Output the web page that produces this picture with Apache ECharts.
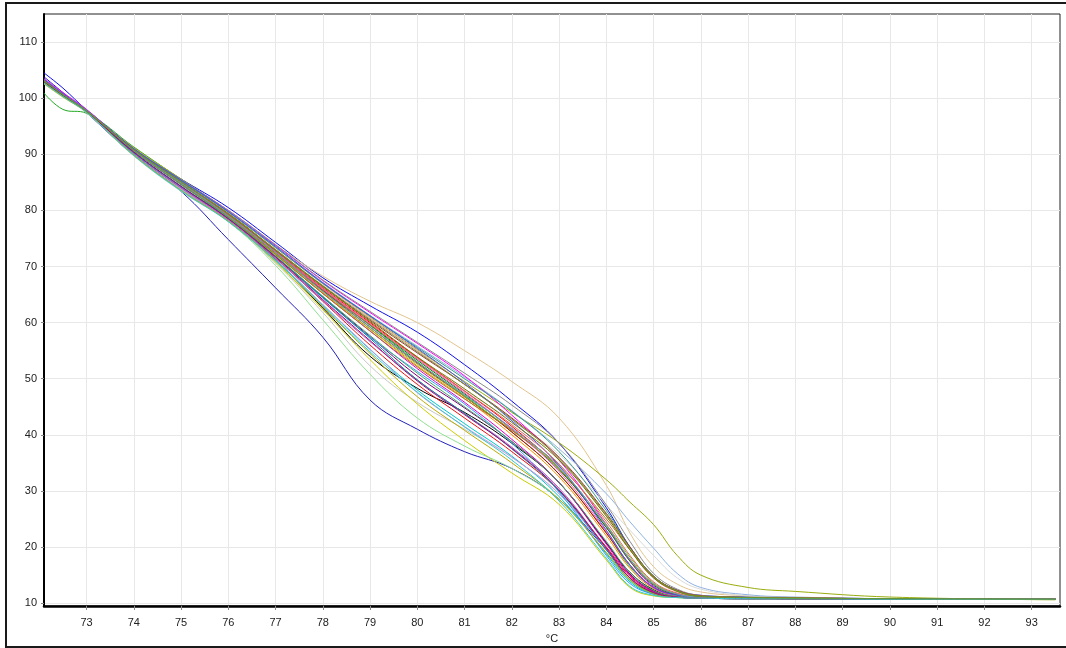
<!DOCTYPE html>
<html>
<head>
<meta charset="utf-8">
<script src="https://cdn.jsdelivr.net/npm/echarts@6/dist/echarts.min.js"></script>
<style>
  html, body { margin: 0; padding: 0; background: #fff; }
  #chart { width: 1066px; height: 648px; }
</style>
</head>
<body>
<div id="chart"></div>
<script>
// melt curves: fluorescence vs temperature (°C), one array per well
const temps = [72.1, 72.5, 73, 74, 75, 76, 77, 78, 79, 80, 81, 82, 83, 84, 84.5, 85, 85.5, 86, 87, 88, 90, 93.5];

const xTicks = [73, 74, 75, 76, 77, 78, 79, 80, 81, 82, 83, 84, 85, 86, 87, 88, 89, 90, 91, 92, 93];
const yTicks = [10, 20, 30, 40, 50, 60, 70, 80, 90, 100, 110];

const w01 = [104.5, 101.8, 97.9, 91.0, 85.6, 80.5, 74.3, 68.0, 63.0, 58.3, 52.5, 46.0, 38.5, 27.0, 20.0, 14.8, 12.3, 11.4, 11.1, 11.0, 10.8, 10.7];
const w02 = [103.8, 101.0, 97.4, 89.8, 83.4, 74.8, 66.2, 57.4, 46.2, 41.0, 37.0, 34.0, 28.5, 19.5, 14.5, 11.8, 11.1, 10.9, 10.8, 10.8, 10.7, 10.7];
const w03 = [100.9, 98.0, 97.3, 91.3, 85.5, 79.6, 72.8, 65.8, 59.5, 53.0, 47.0, 40.5, 33.0, 22.5, 16.5, 12.8, 11.4, 11.0, 10.9, 10.9, 10.8, 10.7];
const w04 = [102.8, 100.5, 97.7, 90.6, 84.8, 79.5, 73.8, 68.3, 63.8, 60.0, 55.0, 49.5, 43.0, 31.0, 22.5, 16.5, 13.4, 12.0, 11.3, 11.0, 10.8, 10.7];
const w05 = [103.0, 100.6, 97.6, 91.2, 85.6, 79.8, 73.4, 67.0, 61.0, 55.2, 49.5, 44.0, 38.6, 32.0, 28.0, 24.0, 18.5, 15.0, 12.8, 12.1, 11.1, 10.6];
const w06 = [103.2, 100.7, 97.8, 91.0, 85.3, 79.7, 73.5, 67.2, 61.3, 55.8, 50.3, 44.3, 37.5, 29.5, 24.5, 19.8, 15.3, 12.8, 11.5, 11.1, 10.8, 10.7];
const w07 = [103.0, 100.6, 97.7, 90.8, 85.0, 79.2, 72.6, 66.0, 59.6, 53.6, 48.0, 42.5, 36.5, 27.5, 23.0, 18.5, 14.5, 12.5, 11.3, 11.0, 10.8, 10.7];
const w08 = [102.5, 100.2, 97.4, 89.7, 83.4, 78.0, 70.6, 61.8, 52.3, 45.8, 41.0, 36.0, 29.5, 20.0, 15.0, 12.2, 11.2, 11.0, 10.9, 10.8, 10.7, 10.7];
const w09 = [102.6, 100.2, 97.5, 89.8, 83.6, 78.2, 70.8, 62.3, 53.4, 45.5, 39.0, 33.2, 27.6, 17.7, 12.8, 11.3, 11.0, 10.9, 10.8, 10.8, 10.7, 10.7];
const w10 = [102.7, 100.3, 97.5, 89.8, 83.5, 78.0, 70.2, 60.5, 50.8, 43.0, 38.0, 34.0, 28.5, 19.0, 14.0, 11.6, 11.0, 10.9, 10.8, 10.8, 10.7, 10.7];
const w11 = [103.3, 100.8, 97.8, 90.3, 84.2, 78.6, 71.2, 62.6, 54.0, 48.3, 44.0, 38.5, 31.5, 20.7, 15.5, 12.4, 11.2, 11.0, 10.9, 10.8, 10.7, 10.7];
const w12 = [103.2, 100.7, 97.8, 90.8, 85.0, 79.4, 72.8, 66.2, 60.0, 53.8, 47.8, 41.5, 34.0, 23.5, 17.8, 13.4, 11.6, 11.1, 11.0, 10.9, 10.8, 10.7];
const w13 = [102.9, 100.5, 97.6, 90.0, 84.0, 78.5, 71.5, 63.8, 56.0, 49.0, 43.0, 37.0, 30.0, 20.0, 14.8, 12.0, 11.2, 11.0, 10.9, 10.8, 10.7, 10.7];
const w14 = [103.5, 101.0, 98.0, 90.9, 85.4, 80.0, 73.8, 67.5, 61.8, 56.3, 50.5, 43.5, 35.5, 24.0, 17.5, 13.0, 11.5, 11.1, 11.0, 10.9, 10.8, 10.7];
const w15 = [103.0, 100.6, 97.7, 90.6, 84.8, 79.0, 72.2, 65.2, 58.5, 51.8, 45.8, 39.2, 31.5, 20.5, 15.0, 12.1, 11.2, 11.0, 10.9, 10.8, 10.7, 10.7];
const w16 = [102.8, 100.4, 97.6, 90.0, 83.8, 78.2, 71.2, 63.2, 55.2, 48.0, 42.0, 36.2, 29.0, 18.8, 13.8, 11.6, 11.1, 10.9, 10.8, 10.8, 10.7, 10.7];
const w17 = [103.1, 100.6, 97.7, 90.6, 84.6, 78.8, 71.8, 64.6, 57.5, 50.5, 44.8, 38.8, 31.5, 20.8, 15.2, 12.2, 11.2, 11.0, 10.9, 10.8, 10.7, 10.7];
const w18 = [102.9, 100.5, 97.6, 90.0, 83.8, 78.2, 71.1, 63.2, 55.3, 47.5, 41.5, 36.0, 29.5, 19.5, 14.5, 11.8, 11.1, 10.9, 10.8, 10.8, 10.7, 10.7];
const w19 = [103.2, 100.7, 97.8, 90.9, 85.2, 79.6, 73.3, 66.9, 60.8, 55.0, 49.0, 42.8, 35.8, 25.5, 19.5, 14.5, 12.0, 11.2, 11.0, 10.9, 10.8, 10.7];
const w20 = [103.4, 100.8, 97.9, 91.0, 85.5, 80.0, 73.9, 67.6, 62.0, 56.5, 51.0, 45.3, 38.5, 27.5, 21.0, 15.3, 12.5, 11.4, 11.1, 11.0, 10.8, 10.7];
const w21 = [103.1, 100.6, 97.8, 90.9, 85.3, 79.7, 73.4, 67.0, 61.2, 55.6, 50.0, 44.2, 37.0, 26.5, 20.0, 14.8, 12.2, 11.3, 11.0, 10.9, 10.8, 10.7];
const w22 = [103.0, 100.6, 97.7, 90.7, 84.8, 78.9, 72.2, 65.3, 58.8, 52.3, 46.5, 40.0, 32.5, 22.0, 16.2, 12.6, 11.3, 11.0, 10.9, 10.8, 10.7, 10.7];
const w23 = [102.9, 100.5, 97.6, 90.3, 84.2, 78.5, 71.7, 64.4, 57.4, 51.3, 45.5, 38.5, 29.8, 18.5, 13.5, 11.6, 11.1, 10.9, 10.8, 10.8, 10.7, 10.7];
const w24 = [103.0, 100.6, 97.7, 90.8, 85.0, 79.2, 72.7, 65.9, 59.6, 53.3, 47.3, 41.0, 33.8, 23.5, 17.5, 13.2, 11.5, 11.1, 10.9, 10.8, 10.8, 10.7];
const w25 = [103.2, 100.7, 97.8, 90.9, 85.1, 79.4, 73.0, 66.5, 60.4, 54.6, 49.0, 43.0, 36.0, 26.0, 20.0, 14.8, 12.3, 11.3, 11.0, 10.9, 10.8, 10.7];
const w26 = [103.1, 100.6, 97.7, 90.7, 84.9, 79.0, 72.4, 65.7, 59.2, 52.8, 46.8, 40.5, 33.0, 22.5, 16.8, 12.8, 11.4, 11.0, 10.9, 10.8, 10.7, 10.7];
const w27 = [102.8, 100.4, 97.6, 90.1, 84.0, 78.3, 71.4, 63.9, 56.6, 49.8, 43.8, 37.8, 30.5, 19.8, 14.5, 11.9, 11.1, 10.9, 10.8, 10.8, 10.7, 10.7];
const w28 = [103.0, 100.6, 97.7, 90.7, 84.8, 78.9, 72.3, 65.5, 58.9, 52.6, 46.8, 40.8, 34.0, 24.0, 18.2, 13.6, 11.7, 11.1, 11.0, 10.9, 10.8, 10.7];
const w29 = [102.9, 100.5, 97.6, 90.3, 84.3, 78.6, 71.8, 64.5, 57.2, 49.8, 43.8, 37.5, 30.0, 19.5, 14.2, 11.8, 11.1, 10.9, 10.8, 10.8, 10.7, 10.7];
const w30 = [103.1, 100.6, 97.7, 90.8, 85.0, 79.2, 72.7, 66.1, 59.8, 53.5, 47.5, 41.0, 33.5, 22.8, 16.8, 12.7, 11.3, 11.0, 10.9, 10.8, 10.7, 10.7];
const w31 = [103.0, 100.5, 97.6, 90.6, 84.7, 78.8, 72.1, 65.2, 58.5, 52.1, 46.4, 40.8, 34.5, 25.0, 19.5, 14.6, 12.2, 11.3, 11.0, 10.9, 10.8, 10.7];
const w32 = [103.3, 100.8, 97.9, 91.0, 85.4, 79.8, 73.6, 67.1, 61.2, 55.4, 49.3, 42.5, 34.5, 23.0, 16.8, 12.8, 11.4, 11.0, 10.9, 10.8, 10.8, 10.7];
const w33 = [102.7, 100.3, 97.5, 89.9, 83.6, 78.1, 71.0, 62.8, 54.5, 46.8, 40.8, 35.0, 28.5, 19.0, 14.2, 11.7, 11.1, 10.9, 10.8, 10.8, 10.7, 10.7];
const w34 = [102.9, 100.5, 97.6, 90.6, 84.6, 78.7, 71.9, 64.7, 57.7, 51.0, 45.0, 38.8, 31.5, 21.0, 15.5, 12.3, 11.2, 11.0, 10.9, 10.8, 10.7, 10.7];
const w35 = [103.1, 100.6, 97.8, 90.8, 85.0, 79.1, 72.6, 65.9, 59.7, 53.7, 47.8, 41.8, 34.8, 24.5, 18.5, 13.8, 11.8, 11.1, 11.0, 10.9, 10.8, 10.7];
const w36 = [103.0, 100.6, 97.7, 90.7, 84.9, 79.0, 72.5, 65.6, 59.2, 52.9, 47.1, 41.2, 34.2, 23.8, 17.8, 13.4, 11.6, 11.1, 10.9, 10.8, 10.8, 10.7];
const w37 = [102.9, 100.5, 97.6, 90.4, 84.3, 78.5, 71.7, 64.1, 56.8, 49.6, 43.6, 37.6, 30.2, 19.8, 14.5, 11.9, 11.1, 10.9, 10.8, 10.8, 10.7, 10.7];
const w38 = [103.0, 100.6, 97.7, 90.8, 85.1, 79.3, 72.9, 66.4, 60.2, 53.9, 48.2, 42.2, 35.5, 25.5, 19.5, 14.5, 12.1, 11.2, 11.0, 10.9, 10.8, 10.7];
const w39 = [102.7, 100.3, 97.5, 89.8, 83.5, 78.0, 71.0, 63.0, 54.8, 47.6, 41.4, 35.5, 28.2, 18.0, 13.0, 11.4, 11.0, 10.9, 10.8, 10.8, 10.7, 10.7];
const w40 = [103.1, 100.6, 97.7, 90.8, 85.1, 79.4, 73.0, 66.6, 60.6, 54.8, 49.0, 42.8, 35.8, 25.8, 19.8, 14.8, 12.2, 11.2, 11.0, 10.9, 10.8, 10.7];

const wells = [w01, w02, w03, w04, w05, w06, w07, w08, w09, w10, w11, w12, w13, w14, w15, w16, w17, w18, w19, w20,
               w21, w22, w23, w24, w25, w26, w27, w28, w29, w30, w31, w32, w33, w34, w35, w36, w37, w38, w39, w40];

const wellColors = ['#1010ee', '#2020bb', '#22aa22', '#e2c48e', '#9aac0e', '#8fb2e2', '#dadada', '#c6c6c6', '#cccc00', '#8ee08e',
                    '#000000', '#ff0000', '#e81010', '#ff00ff', '#e000c8', '#00c8c8', '#800080', '#cc99ee', '#ff9aa8', '#8a8a8a',
                    '#339988', '#ff8c00', '#3399ff', '#0a800a', '#a83232', '#c80000', '#a866cc', '#77bb22', '#008a99', '#ff4fb8',
                    '#aa7722', '#4455ee', '#bbaa00', '#44aa66', '#e06666', '#6699cc', '#aa0077', '#777700', '#33cccc', '#669933'];

const chart = echarts.init(document.getElementById('chart'), null, { renderer: 'canvas' });

const series = wells.map(function (vals, i) {
    return {
        type: 'line',
        data: temps.map(function (t, j) { return [t, vals[j]]; }),
        showSymbol: false,
        smooth: 0.4,
        lineStyle: { width: 1, color: wellColors[i] },
        emphasis: { disabled: true },
        z: 2
    };
});

const labelFont = { fontFamily: 'Liberation Sans, Arial, sans-serif', fontSize: 11, color: '#222' };

chart.setOption({
    animation: false,
    backgroundColor: '#fff',
    grid: {
        left: 44, right: 6, top: 14, bottom: 42,
        outerBoundsMode: 'none',
        show: true, borderColor: '#222', borderWidth: 1
    },
    xAxis: {
        type: 'value',
        min: 72.1,
        max: 93.6,
        name: '°C',
        nameLocation: 'middle',
        nameGap: 27,
        nameTextStyle: labelFont,
        axisLine: { lineStyle: { color: '#000', width: 2.5 } },
        axisTick: { show: true, length: 4, lineStyle: { color: '#888' }, customValues: xTicks },
        axisLabel: Object.assign({ margin: 11, customValues: xTicks }, labelFont),
        splitLine: { show: true, lineStyle: { color: '#e8e8e8', width: 1 } }
    },
    yAxis: {
        type: 'value',
        min: 9.5,
        max: 115,
        axisLine: { show: true, lineStyle: { color: '#000', width: 2 } },
        axisTick: { show: true, length: 3, lineStyle: { color: '#888' }, customValues: yTicks },
        axisLabel: Object.assign({ margin: 7, customValues: yTicks }, labelFont),
        splitLine: { show: true, lineStyle: { color: '#e8e8e8', width: 1 } }
    },
    graphic: [{
        type: 'rect',
        shape: { x: 6, y: 3, width: 1080, height: 644 },
        style: { fill: 'none', stroke: '#1a1a1a', lineWidth: 2 },
        silent: true
    }],
    series: series
});
</script>
</body>
</html>
